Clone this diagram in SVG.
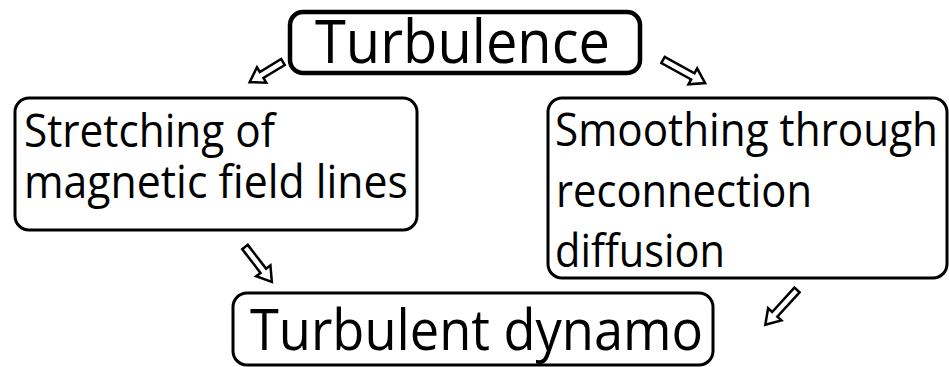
<svg xmlns="http://www.w3.org/2000/svg" width="949" height="367" viewBox="0 0 949 367">
<style>
.box{fill:#fff;stroke:#000;stroke-width:3}
.top{stroke-width:4.5}
text{font-family:"Open Sans","Noto Sans",sans-serif;fill:#000}
.arr{fill:#fff;stroke:#000;stroke-width:2.5;stroke-linejoin:miter}
</style>
<rect width="949" height="367" fill="#fff"/>
<g id="connectors">
<path class="arr" transform="translate(283,62) rotate(148.8)" d="M0,-3.5 L25,-3.5 L25,-9 L39,0 L25,9 L25,3.5 L0,3.5 Z"/>
<path class="arr" transform="translate(663,60) rotate(28.7)" d="M0,-3.5 L34,-3.5 L34,-9 L48,0 L34,9 L34,3.5 L0,3.5 Z"/>
<path class="arr" transform="translate(245,247) rotate(52.4)" d="M0,-3.5 L30,-3.5 L30,-9 L44,0 L30,9 L30,3.5 L0,3.5 Z"/>
<path class="arr" transform="translate(797,290) rotate(132.4)" d="M0,-3.5 L33,-3.5 L33,-9 L47,0 L33,9 L33,3.5 L0,3.5 Z"/>
</g>
<g id="turbulence">
<rect class="box top" x="290" y="12" width="350" height="61" rx="13"/>
<text x="315" y="63" font-size="61" textLength="295" lengthAdjust="spacingAndGlyphs">Turbulence</text>
</g>
<g id="stretching">
<rect class="box" x="15" y="98" width="402" height="132" rx="14"/>
<text x="24" y="147" font-size="45" textLength="251" lengthAdjust="spacingAndGlyphs">Stretching of</text>
<text x="24" y="198" font-size="45" textLength="384" lengthAdjust="spacingAndGlyphs">magnetic field lines</text>
</g>
<g id="smoothing">
<rect class="box" x="548" y="98" width="399" height="180" rx="14"/>
<text x="555" y="146" font-size="45" textLength="383" lengthAdjust="spacingAndGlyphs">Smoothing through</text>
<text x="556" y="207" font-size="45" textLength="256" lengthAdjust="spacingAndGlyphs">reconnection</text>
<text x="555" y="267" font-size="45" textLength="170" lengthAdjust="spacingAndGlyphs">diffusion</text>
</g>
<g id="dynamo">
<rect class="box" x="233" y="293" width="480" height="72" rx="14"/>
<text x="250" y="350" font-size="57" textLength="453" lengthAdjust="spacingAndGlyphs">Turbulent dynamo</text>
</g>
</svg>
